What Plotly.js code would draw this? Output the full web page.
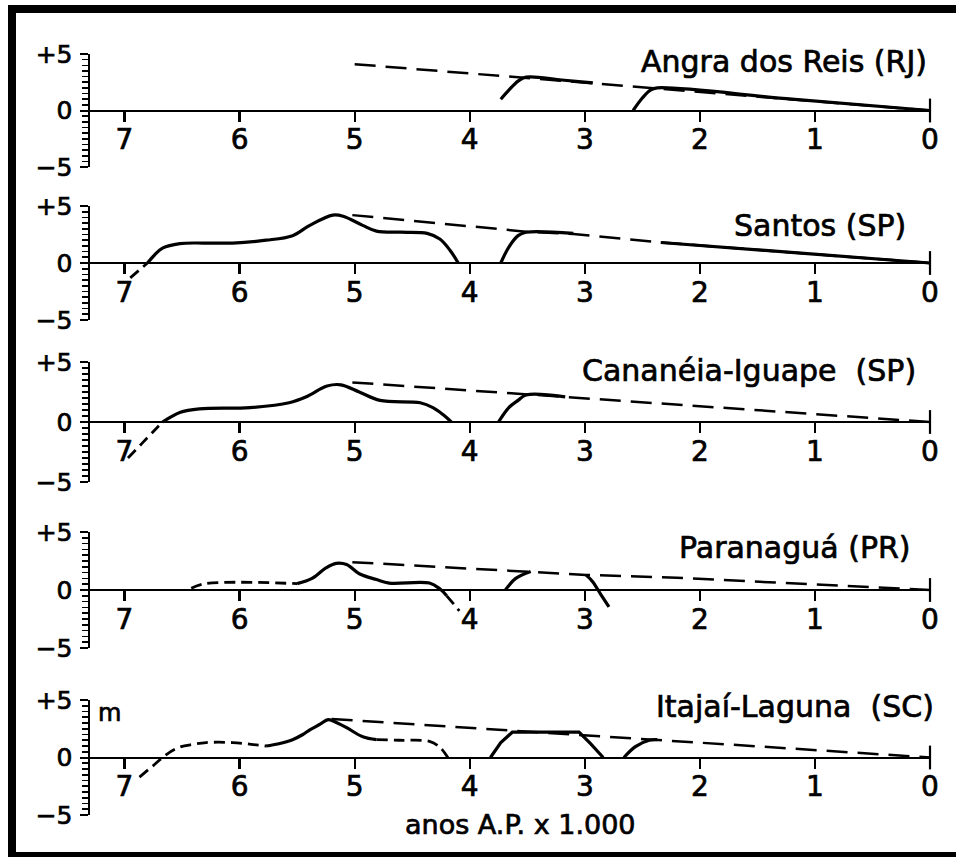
<!DOCTYPE html>
<html>
<head>
<meta charset="utf-8">
<script src="https://cdn.plot.ly/plotly-3.0.1.min.js"></script>
<style>
html,body{margin:0;padding:0;background:#fff;}
#chart{width:956px;height:857px;}
#chart text{stroke:#000;stroke-width:0.7px;}
</style>
</head>
<body>
<div id="chart"></div>
<script>
// ---------- tick labels and site names ----------
const ageTickVals = [7, 6, 5, 4, 3, 2, 1, 0];
const ageTickText = ['7', '6', '5', '4', '3', '2', '1', '0'];
const levelTickVals = [-5, 0, 5];
const levelTickText = ['\u22125', '0', '+5'];
const siteNames = ['Angra dos Reis (RJ)', 'Santos (SP)', 'Canan\u00e9ia-Iguape\u00a0\u00a0(SP)', 'Paranagu\u00e1 (PR)', 'Itaja\u00ed-Laguna\u00a0\u00a0(SC)'];

// ---------- Angra dos Reis (RJ) ----------
const angraEnvAge = [5.0, 0];
const angraEnvLevel = [4.1, 0];
const angraCurve1Age = [3.73, 3.66, 3.58, 3.51, 3.2, 2.93];
const angraCurve1Level = [1.0, 1.8, 2.6, 2.95, 2.7, 2.45];
const angraCurve2Age = [2.58, 2.50, 2.43, 2.37, 1.2, 0];
const angraCurve2Level = [0, 1.1, 1.8, 2.0, 1.0, 0];

// ---------- Santos (SP) ----------
const santosEnvAge = [5.02, 3.51, 3.10, 2.34, 0];
const santosEnvLevel = [4.2, 2.75, 2.55, 1.8, 0];
const santosTailAge = [6.95, 6.80];
const santosTailLevel = [-1.3, 0];
const santosCurve1Age = [6.80, 6.74, 6.67, 6.52, 6.30, 6.06, 5.77, 5.54, 5.39, 5.19, 5.10, 4.93, 4.81, 4.60, 4.37, 4.26, 4.17, 4.10];
const santosCurve1Level = [0, 0.7, 1.3, 1.7, 1.75, 1.75, 2.0, 2.4, 3.3, 4.2, 4.1, 3.3, 2.8, 2.7, 2.6, 2.1, 1.1, 0];
const santosCurve2Age = [3.73, 3.66, 3.58, 3.51, 3.10];
const santosCurve2Level = [0, 1.4, 2.4, 2.7, 2.6];
const santosCurve3Age = [2.34, 1.2, 0];
const santosCurve3Level = [1.8, 0.9, 0];

// ---------- Cananéia-Iguape (SP) ----------
const cananeiaEnvAge = [5.02, 0];
const cananeiaEnvLevel = [3.3, 0];
const cananeiaTailAge = [6.97, 6.85, 6.72, 6.67];
const cananeiaTailLevel = [-3.0, -1.8, -0.5, 0];
const cananeiaCurve1Age = [6.67, 6.60, 6.52, 6.35, 5.91, 5.57, 5.42, 5.24, 5.12, 4.96, 4.78, 4.43, 4.32, 4.23, 4.16];
const cananeiaCurve1Level = [0, 0.4, 0.8, 1.1, 1.2, 1.6, 2.1, 3.0, 3.1, 2.5, 1.8, 1.6, 1.2, 0.6, 0];
const cananeiaCurve2Age = [3.75, 3.66, 3.58, 3.51, 3.17];
const cananeiaCurve2Level = [0, 1.2, 1.8, 2.25, 2.1];

// ---------- Paranaguá (PR) ----------
const paranaguaEnvAge = [5.02, 3.47, 2.99, 2.2, 0];
const paranaguaEnvLevel = [2.4, 1.6, 1.3, 1.05, 0];
const paranaguaEarlyAge = [6.42, 6.30, 5.50];
const paranaguaEarlyLevel = [0.15, 0.55, 0.55];
const paranaguaCurve1Age = [5.50, 5.37, 5.25, 5.16, 5.07, 4.96, 4.81, 4.70, 4.35, 4.26, 4.20];
const paranaguaCurve1Level = [0.55, 1.0, 1.9, 2.3, 2.2, 1.4, 0.9, 0.6, 0.6, 0.1, -0.5];
const paranaguaTailAge = [4.20, 4.09];
const paranaguaTailLevel = [-0.5, -1.8];
const paranaguaCurve2Age = [3.69, 3.60, 3.47];
const paranaguaCurve2Level = [0, 1.0, 1.6];
const paranaguaCurve3Age = [2.99, 2.93, 2.86, 2.79];
const paranaguaCurve3Level = [1.3, 0.7, -0.4, -1.45];

// ---------- Itajaí-Laguna (SC) ----------
const itajaiEnvAge = [5.2, 0];
const itajaiEnvLevel = [3.35, 0];
const itajaiEarlyAge = [6.87, 6.75, 6.63, 6.52, 6.40, 6.29, 6.06, 5.90, 5.77];
const itajaiEarlyLevel = [-1.7, -0.7, 0.3, 0.9, 1.15, 1.3, 1.3, 1.15, 1.0];
const itajaiCurve1Age = [5.77, 5.66, 5.54, 5.45, 5.39, 5.30, 5.23, 5.15, 5.07, 4.93, 4.81];
const itajaiCurve1Level = [1.0, 1.2, 1.55, 2.0, 2.4, 2.9, 3.3, 3.0, 2.6, 1.8, 1.55];
const itajaiLateAge = [4.81, 4.61, 4.35, 4.26, 4.19];
const itajaiLateLevel = [1.55, 1.5, 1.4, 0.9, 0];
const itajaiCurve2Age = [3.82, 3.73, 3.63, 3.05, 2.95, 2.84];
const itajaiCurve2Level = [0, 1.3, 2.2, 2.2, 1.2, 0];
const itajaiCurve3Age = [2.66, 2.56, 2.44, 2.37];
const itajaiCurve3Level = [0, 0.95, 1.5, 1.55];

// ---------- segment table (panel index, data, style) ----------
const segments = [
  [0, angraEnvAge, angraEnvLevel, 'env', 'linear'],
  [0, angraCurve1Age, angraCurve1Level, 'solid', 'spline'],
  [0, angraCurve2Age, angraCurve2Level, 'solid', 'spline'],
  [1, santosEnvAge, santosEnvLevel, 'env', 'linear'],
  [1, santosTailAge, santosTailLevel, 'dash', 'linear'],
  [1, santosCurve1Age, santosCurve1Level, 'solid', 'spline'],
  [1, santosCurve2Age, santosCurve2Level, 'solid', 'spline'],
  [1, santosCurve3Age, santosCurve3Level, 'solid', 'linear'],
  [2, cananeiaEnvAge, cananeiaEnvLevel, 'env', 'linear'],
  [2, cananeiaTailAge, cananeiaTailLevel, 'dash', 'spline'],
  [2, cananeiaCurve1Age, cananeiaCurve1Level, 'solid', 'spline'],
  [2, cananeiaCurve2Age, cananeiaCurve2Level, 'solid', 'spline'],
  [3, paranaguaEnvAge, paranaguaEnvLevel, 'env', 'linear'],
  [3, paranaguaEarlyAge, paranaguaEarlyLevel, 'dash', 'spline'],
  [3, paranaguaCurve1Age, paranaguaCurve1Level, 'solid', 'spline'],
  [3, paranaguaTailAge, paranaguaTailLevel, 'dash', 'linear'],
  [3, paranaguaCurve2Age, paranaguaCurve2Level, 'solid', 'spline'],
  [3, paranaguaCurve3Age, paranaguaCurve3Level, 'solid', 'spline'],
  [4, itajaiEnvAge, itajaiEnvLevel, 'env', 'linear'],
  [4, itajaiEarlyAge, itajaiEarlyLevel, 'dash', 'spline'],
  [4, itajaiCurve1Age, itajaiCurve1Level, 'solid', 'spline'],
  [4, itajaiLateAge, itajaiLateLevel, 'dash', 'spline'],
  [4, itajaiCurve2Age, itajaiCurve2Level, 'solid', 'linear'],
  [4, itajaiCurve3Age, itajaiCurve3Level, 'solid', 'spline']
];

// ---------- layout geometry (pixels) ----------
const W = 956, H = 857;
const FONT = 'DejaVu Sans, Liberation Sans, sans-serif';
const plotLeft = 90, plotRight = 930;
const panelTop = [54, 206, 362, 532, 700];      // pixel row of +5
const panelBottom = [167, 320, 482, 648, 815];  // pixel row of -5
const titleRight = [929, 908, 918, 913, 936];
const titleMid = [61, 225, 370, 547, 706];

const py = p => 1 - p / H;
const px = p => p / W;

const styles = {
  solid: {color: 'black', width: 3.2},
  env: {color: 'black', width: 2.5, dash: '21px,10px'},
  dash: {color: 'black', width: 2.8, dash: '11px,6px'}
};

const traces = [];
segments.forEach(([panel, age, level, kind, shape]) => {
  const n = panel === 0 ? '' : String(panel + 1);
  traces.push({
    type: 'scatter', mode: 'lines', x: age, y: level,
    xaxis: 'x' + n, yaxis: 'y' + n,
    line: Object.assign({shape: shape, smoothing: 1.0}, styles[kind]),
    hoverinfo: 'skip', showlegend: false
  });
});
// end tick at age 0 crossing the baseline
for (let i = 0; i < 5; i++) {
  const n = i === 0 ? '' : String(i + 1);
  traces.push({
    type: 'scatter', mode: 'markers',
    x: [ageTickVals[ageTickVals.length - 1]], y: [levelTickVals[1]],
    xaxis: 'x' + n, yaxis: 'y' + n,
    marker: {symbol: 'line-ns', size: 17, line: {color: 'black', width: 2.2}},
    hoverinfo: 'skip', showlegend: false, cliponaxis: false
  });
}

const layout = {
  width: W, height: H,
  margin: {l: 0, r: 0, t: 0, b: 0},
  paper_bgcolor: 'white', plot_bgcolor: 'rgba(0,0,0,0)',
  showlegend: false,
  font: {family: FONT, color: 'black'},
  annotations: [],
  shapes: [
    {type: 'line', xref: 'paper', yref: 'paper', x0: px(12), x1: px(12), y0: py(857), y1: py(5), line: {color: 'black', width: 8}},
    {type: 'line', xref: 'paper', yref: 'paper', x0: px(8), x1: 1, y0: py(9), y1: py(9), line: {color: 'black', width: 8}},
    {type: 'line', xref: 'paper', yref: 'paper', x0: px(8), x1: 1, y0: py(855), y1: py(855), line: {color: 'black', width: 6}}
  ]
};

for (let i = 0; i < 5; i++) {
  const n = i === 0 ? '' : String(i + 1);
  const yDom = [py(panelBottom[i]), py(panelTop[i])];
  layout['xaxis' + n] = {
    domain: [px(plotLeft), px(plotRight)],
    range: [7.3, 0],
    anchor: 'free',
    position: (yDom[0] + yDom[1]) / 2,
    showline: true, linecolor: 'black', linewidth: 2,
    ticks: 'outside', ticklen: 10, tickwidth: 2.2, tickcolor: 'black',
    tickmode: 'array', tickvals: ageTickVals, ticktext: ageTickText,
    tickfont: {family: FONT, size: 28, color: 'black'},
    ticklabelstandoff: -6,
    showgrid: false, zeroline: false, fixedrange: true
  };
  layout['yaxis' + n] = {
    domain: yDom,
    range: [-5, 5],
    anchor: 'x' + n,
    showline: true, linecolor: 'black', linewidth: 2.5,
    ticks: 'outside', ticklen: 8, tickwidth: 2, tickcolor: 'black',
    tickmode: 'array', tickvals: levelTickVals, ticktext: levelTickText,
    tickfont: {family: FONT, size: 25, color: 'black'},
    ticklabelstandoff: 2,
    minor: {tickmode: 'linear', tick0: 0, dtick: 0.5, ticks: 'outside', ticklen: 6, tickwidth: 1.6, tickcolor: 'black', showgrid: false},
    showgrid: false, zeroline: false, fixedrange: true
  };
  layout.annotations.push({
    xref: 'paper', yref: 'paper', x: px(titleRight[i]), y: py(titleMid[i]),
    xanchor: 'right', yanchor: 'middle', showarrow: false,
    text: siteNames[i], font: {family: FONT, size: 30, color: 'black'}
  });
}
layout.annotations.push({
  xref: 'paper', yref: 'paper', x: px(109), y: py(713),
  xanchor: 'center', yanchor: 'middle', showarrow: false,
  text: 'm', font: {family: FONT, size: 24, color: 'black'}
});
layout.annotations.push({
  xref: 'paper', yref: 'paper', x: px(520), y: py(824),
  xanchor: 'center', yanchor: 'middle', showarrow: false,
  text: 'anos A.P. x 1.000', font: {family: FONT, size: 27, color: 'black'}
});

Plotly.newPlot('chart', traces, layout, {staticPlot: true, displayModeBar: false});
</script>
</body>
</html>
